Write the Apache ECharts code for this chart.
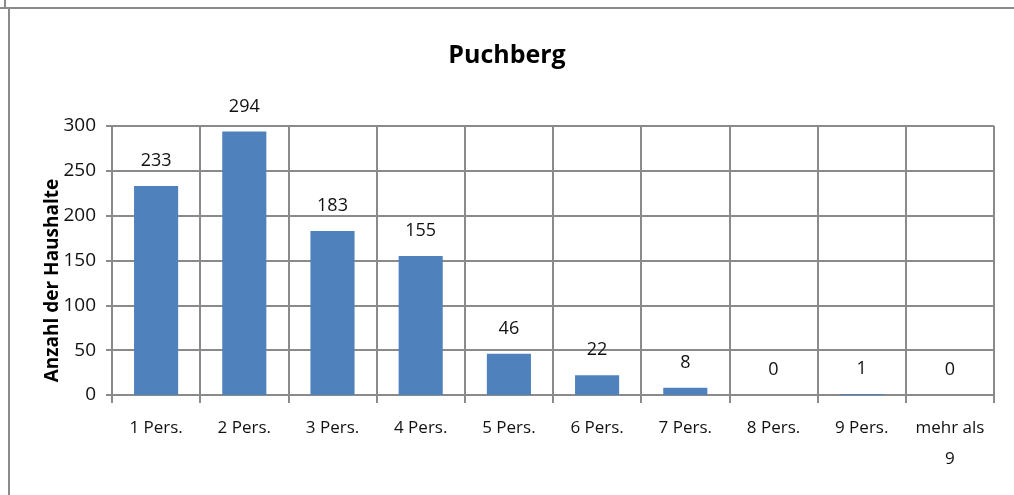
<!DOCTYPE html>
<html style="height: 100%">
<head>
    <meta charset="utf-8">
</head>
<body style="height: 100%; margin: 0; background: #fff">
    <div id="container" style="width: 1014px; height: 495px"></div>
    <script type="text/javascript" src="https://cdn.jsdelivr.net/npm/echarts/dist/echarts.min.js"></script>
    <script type="text/javascript">
        var categories = ['1 Pers.', '2 Pers.', '3 Pers.', '4 Pers.', '5 Pers.', '6 Pers.', '7 Pers.', '8 Pers.', '9 Pers.', 'mehr als\n9'];
        var households = [233, 294, 183, 155, 46, 22, 8, 0, 1, 0];
        var yTicks = [0, 50, 100, 150, 200, 250, 300];

        var gridColor = '#8a8a8a';
        var font = '"Open Sans", "Noto Sans", sans-serif';

        var myChart = echarts.init(document.getElementById('container'));
        var option = {
            backgroundColor: '#fff',
            animation: false,
            title: {
                text: 'Puchberg',
                left: 'center',
                top: 38,
                textStyle: { fontFamily: font, fontSize: 25, fontWeight: 'bold', color: '#000' }
            },
            grid: { left: 112, right: 20, top: 126, bottom: 100 },
            graphic: [
                { type: 'line', shape: { x1: 0, y1: 8, x2: 1014, y2: 8 }, style: { stroke: '#8a8a8a', lineWidth: 2 } },
                { type: 'line', shape: { x1: 9, y1: 8, x2: 9, y2: 495 }, style: { stroke: '#8a8a8a', lineWidth: 2 } },
                { type: 'line', shape: { x1: 5, y1: 0, x2: 5, y2: 8 }, style: { stroke: '#8a8a8a', lineWidth: 2 } }
            ],
            xAxis: {
                type: 'category',
                data: categories,
                axisLine: { lineStyle: { color: gridColor, width: 2 } },
                axisTick: { show: true, length: 8, lineStyle: { color: gridColor, width: 2 } },
                splitLine: { show: true, lineStyle: { color: gridColor, width: 2 } },
                axisLabel: { interval: 0, margin: 18, color: '#111', fontFamily: font, fontSize: 17, lineHeight: 31 }
            },
            yAxis: {
                type: 'value',
                min: yTicks[0],
                max: yTicks[yTicks.length - 1],
                interval: 50,
                name: 'Anzahl der Haushalte',
                nameLocation: 'middle',
                nameGap: 50,
                nameMoveOverlap: false,
                nameTextStyle: { fontFamily: font, fontSize: 19, fontWeight: 'bold', color: '#000', padding: [0, 40, 0, 0] },
                axisLine: { show: true, lineStyle: { color: gridColor, width: 2 } },
                axisTick: { show: true, length: 6, lineStyle: { color: gridColor, width: 2 } },
                splitLine: { show: true, lineStyle: { color: gridColor, width: 2 } },
                axisLabel: { margin: 16, color: '#111', fontFamily: font, fontSize: 19 }
            },
            series: [{
                type: 'bar',
                data: households,
                barWidth: '50%',
                itemStyle: { color: '#4f81bd' },
                label: {
                    show: true,
                    position: 'top',
                    distance: 16,
                    color: '#111',
                    fontFamily: font,
                    fontSize: 18
                }
            }]
        };
        myChart.setOption(option, true);
    </script>
</body>
</html>
